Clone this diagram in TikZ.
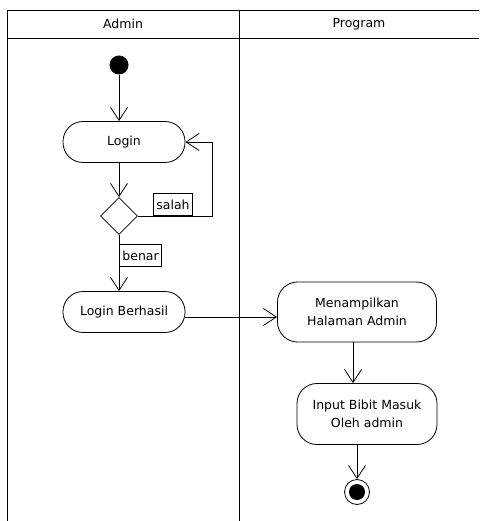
\documentclass[tikz,border=0pt]{standalone}
\usepackage{fontspec}
\setmainfont{DejaVu Sans}
\usetikzlibrary{arrows.meta,shapes.geometric}
\begin{document}
\begin{tikzpicture}[x=1pt,y=-1pt,line width=0.8pt,
  font=\fontsize{12.5}{17.5}\selectfont,
  flow/.style={-{Straight Barb[length=13pt,width=17pt,line width=0.8pt]}},
  act/.style={draw,rectangle,rounded corners=20pt,align=center,minimum width=122pt,minimum height=41pt},
  cond/.style={draw,diamond,aspect=1,inner sep=0pt,minimum size=37pt},
  initial/.style={circle,fill=black,inner sep=0pt,minimum size=19pt},
  final/.style={circle,draw,inner sep=0pt,minimum size=25pt,
    path picture={\fill (path picture bounding box.center) circle (8pt);}},
  guard/.style={draw,inner sep=3pt,minimum height=22pt}]
\useasboundingbox (0,0) rectangle (479,521);
% lanes
\draw (7,521) -- (7,10) -- (479,10);
\draw (7,38) -- (479,38);
\draw (239,10) -- (239,521);
\node (admin) at (123,24) {Admin};
\node (program) at (359,24) {Program};
% admin
\node[initial] (start) at (119,65) {};
\node[act] (login) at (124,142) {Login};
\node[cond] (cek) at (119,216) {};
\node[act] (berhasil) at (124,312) {Login Berhasil};
\coordinate (balik) at (212,216);
\draw[flow] (start) -- (start |- login.north);
\draw[flow] (cek |- login.south) -- (cek.north);
\draw[flow] (cek.east) -- (balik) |- (login.east);
\draw[flow] (cek.south) -- (cek |- berhasil.north);
\node[guard,anchor=south east] (salah) at (193,216) {salah};
\node[guard,anchor=north west] (benar) at (119,244) {benar};
% program
\node[act,minimum width=159pt,minimum height=60pt] (tampil) at (357,312) {Menampilkan\\Halaman Admin};
\node[act,minimum width=140pt,minimum height=61pt] (input) at (367,414) {Input Bibit Masuk\\Oleh admin};
\node[final] (end) at (357,492) {};
\draw[flow] ([yshift=-5pt]berhasil.east) -- ([yshift=-5pt]tampil.west);
\draw[flow] ([xshift=-4pt]tampil.south) -- ([xshift=-4pt]tampil.south |- input.north);
\draw[flow] (input.south -| end) -- (end.north);
\end{tikzpicture}
\end{document}
